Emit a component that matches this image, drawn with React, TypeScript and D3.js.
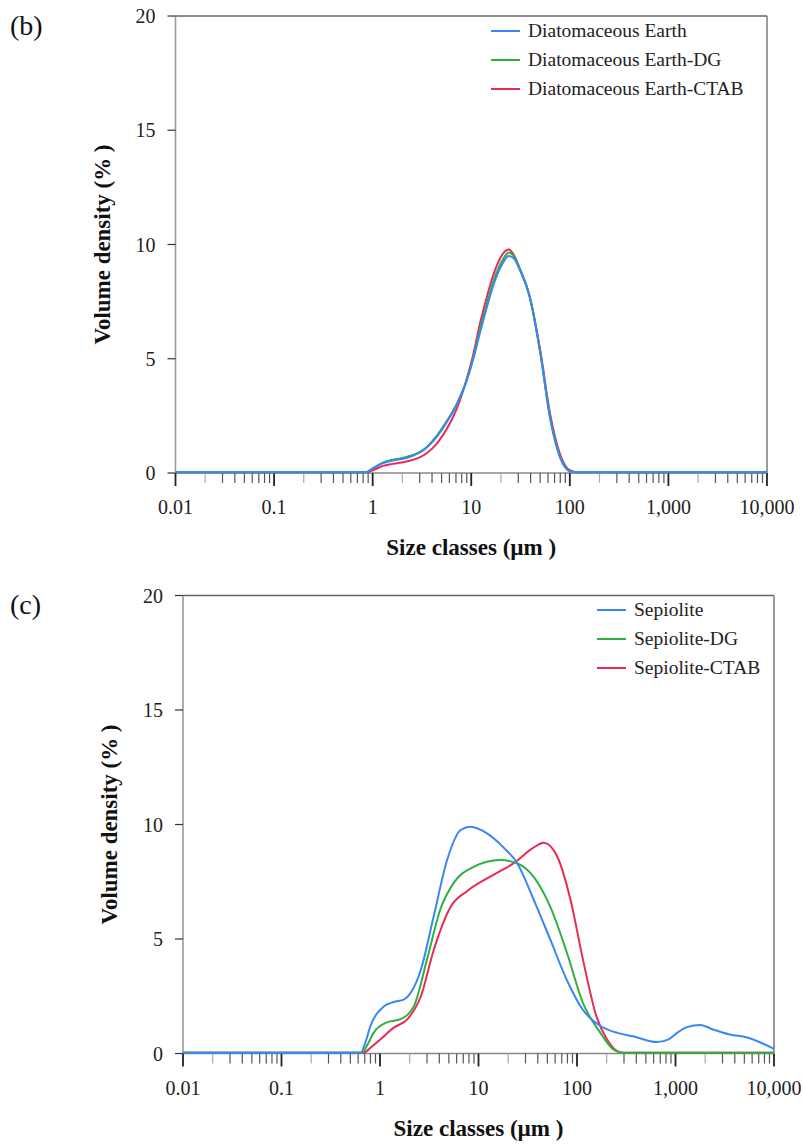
import React from "react";
import * as d3 from "d3";

// ---------- data ----------
const xTickValues = [0.01, 0.1, 1, 10, 100, 1000, 10000];
const xTickLabels = ["0.01", "0.1", "1", "10", "100", "1,000", "10,000"];
const yTickValues = [0, 5, 10, 15, 20];

// Panel (b) – Diatomaceous Earth
const deSizes = [0.01, 0.85, 1.0, 1.26, 1.6, 2.2, 3.5, 4.5, 5.6, 7.1, 8.9, 10.5, 12.2, 14.5, 16.7, 21, 24, 27, 31, 39, 50, 63, 80, 100, 120, 10000];
const deBlue = [0.03, 0.03, 0.2, 0.42, 0.55, 0.65, 1.09, 1.6, 2.2, 3.0, 4.0, 5.0, 6.1, 7.3, 8.2, 9.2, 9.5, 9.4, 8.9, 7.75, 5.3, 2.4, 0.65, 0.08, 0.03, 0.03];
const deGreen = [0.03, 0.03, 0.2, 0.45, 0.58, 0.7, 1.12, 1.65, 2.25, 3.0, 4.0, 5.05, 6.25, 7.45, 8.35, 9.35, 9.65, 9.5, 8.95, 7.75, 5.3, 2.45, 0.7, 0.08, 0.03, 0.03];
const deRed = [0.03, 0.03, 0.12, 0.3, 0.4, 0.5, 0.85, 1.3, 1.9, 2.8, 4.05, 5.2, 6.5, 7.75, 8.65, 9.6, 9.78, 9.55, 8.95, 7.75, 5.4, 2.6, 0.8, 0.12, 0.03, 0.03];
const deNames = ["Diatomaceous Earth", "Diatomaceous Earth-DG", "Diatomaceous Earth-CTAB"];

// Panel (c) – Sepiolite
const sepBlueSizes = [0.01, 0.64, 0.7, 0.8, 1.09, 1.38, 1.74, 2.05, 2.6, 3.5, 4.8, 6.6, 8.3, 12.3, 17.9, 24.8, 36.5, 53.6, 79, 115, 173, 257, 372, 645, 850, 1050, 1310, 1790, 2400, 3570, 5330, 10000];
const sepBlue = [0.03, 0.03, 0.4, 1.2, 2.05, 2.25, 2.35, 2.65, 3.66, 5.97, 8.45, 9.76, 9.9, 9.6, 9.0, 8.3, 6.7, 4.97, 3.2, 1.9, 1.2, 0.9, 0.75, 0.5, 0.62, 0.92, 1.15, 1.25, 1.05, 0.83, 0.7, 0.2];
const sepGreenSizes = [0.01, 0.66, 0.75, 0.86, 1.19, 1.62, 2.2, 3.0, 4.1, 5.6, 8.9, 16.6, 24.8, 36.5, 53.6, 79, 115, 173, 235, 295, 10000];
const sepGreen = [0.03, 0.03, 0.4, 0.9, 1.37, 1.5, 2.05, 4.1, 6.3, 7.45, 8.15, 8.45, 8.3, 7.7, 6.4, 4.4, 2.2, 0.9, 0.17, 0.03, 0.03];
const sepRedSizes = [0.01, 0.68, 0.8, 1.0, 1.38, 1.9, 2.6, 3.5, 5.2, 7.7, 14.2, 22.6, 36.5, 46, 63, 86, 115, 158, 203, 257, 300, 10000];
const sepRed = [0.03, 0.03, 0.25, 0.6, 1.13, 1.5, 2.5, 4.5, 6.4, 7.1, 7.8, 8.3, 9.0, 9.2, 8.6, 6.7, 4.1, 1.6, 0.6, 0.1, 0.03, 0.03];
const sepNames = ["Sepiolite", "Sepiolite-DG", "Sepiolite-CTAB"];

const colors = ["#3a86f2", "#2fb040", "#ea2a55"];

const FONT = "'Liberation Serif', 'Times New Roman', serif";

interface Series { sizes: number[]; values: number[]; }

interface PanelProps {
  label: string;
  labelY: number;
  left: number;
  right: number;
  top: number;
  bottom: number;
  series: Series[];
  names: string[];
  legendX: number;
  legendY: number;
}

function Panel(p: PanelProps) {
  const x = d3.scaleLog().domain([0.01, 10000]).range([p.left, p.right]);
  const y = d3.scaleLinear().domain([0, 20]).range([p.bottom, p.top]);
  const minor: number[] = [];
  for (let d = -2; d < 4; d++) for (let k = 2; k <= 9; k++) minor.push(k * Math.pow(10, d));
  const line = (s: Series) =>
    d3
      .line<number>()
      .x((_, i) => x(s.sizes[i]))
      .y((v) => y(v))
      .curve(d3.curveMonotoneX)(s.values) || "";
  const midY = (p.top + p.bottom) / 2;
  const midX = (p.left + p.right) / 2;
  const order = [2, 1, 0];
  return (
    <g>
      <text x={10} y={p.labelY} fontFamily={FONT} fontSize={28} fill="#111">{p.label}</text>
      {/* frame */}
      <line x1={p.left} x2={p.right} y1={p.top} y2={p.top} stroke="#666" strokeWidth={1.3} />
      <line x1={p.right} x2={p.right} y1={p.top} y2={p.bottom} stroke="#666" strokeWidth={1.3} />
      <line x1={p.left} x2={p.left} y1={p.top} y2={p.bottom} stroke="#9a9a9a" strokeWidth={1.6} />
      <line x1={p.left} x2={p.right} y1={p.bottom} y2={p.bottom} stroke="#8a8a8a" strokeWidth={1.6} />
      {/* y ticks */}
      {yTickValues.map((v) => (
        <g key={"y" + v}>
          <line x1={p.left - 8} x2={p.left} y1={y(v)} y2={y(v)} stroke="#333" strokeWidth={1.2} />
          <text x={p.left - 20} y={y(v)} dy="0.35em" textAnchor="end" fontFamily={FONT} fontSize={20} fill="#222">{v}</text>
        </g>
      ))}
      {/* x ticks */}
      {minor.map((v, i) => (
        <line key={"m" + i} x1={x(v)} x2={x(v)} y1={p.bottom} y2={p.bottom + 10} stroke={String(v).replace(/[0.]/g, "")[0] === "2" ? "#aaa" : "#555"} strokeWidth={1.2} />
      ))}
      {xTickValues.map((v, i) => (
        <g key={"x" + i}>
          <line x1={x(v)} x2={x(v)} y1={p.bottom} y2={p.bottom + 13} stroke="#222" strokeWidth={1.8} />
          <text x={x(v)} y={p.bottom + 41} textAnchor="middle" fontFamily={FONT} fontSize={20} fill="#222">{xTickLabels[i]}</text>
        </g>
      ))}
      {/* axis titles */}
      <text x={midX} y={p.bottom + 82} textAnchor="middle" fontFamily={FONT} fontWeight="bold" fontSize={23} textLength={170} lengthAdjust="spacingAndGlyphs" fill="#111">Size classes (µm )</text>
      <text transform={`translate(${p.left - 74},${midY}) rotate(-90)`} textAnchor="middle" dy="0.35em" fontFamily={FONT} fontWeight="bold" fontSize={23} textLength={200} lengthAdjust="spacingAndGlyphs" fill="#111">Volume density (% )</text>
      {/* curves: red, green, then blue on top */}
      {order.map((i) => (
        <path key={"s" + i} d={line(p.series[i])} fill="none" stroke={colors[i]} strokeWidth={2} />
      ))}
      {/* legend */}
      {p.names.map((n, i) => (
        <g key={"l" + i}>
          <line x1={p.legendX} x2={p.legendX + 29} y1={p.legendY + i * 29} y2={p.legendY + i * 29} stroke={colors[i]} strokeWidth={2} />
          <text x={p.legendX + 37} y={p.legendY + i * 29} dy="0.33em" fontFamily={FONT} fontSize={19.5} fill="#222">{n}</text>
        </g>
      ))}
    </g>
  );
}

export default function App() {
  const topSeries: Series[] = [
    { sizes: deSizes, values: deBlue },
    { sizes: deSizes, values: deGreen },
    { sizes: deSizes, values: deRed },
  ];
  const botSeries: Series[] = [
    { sizes: sepBlueSizes, values: sepBlue },
    { sizes: sepGreenSizes, values: sepGreen },
    { sizes: sepRedSizes, values: sepRed },
  ];
  return (
    <svg width={803} height={1145} style={{ position: "absolute", left: 0, top: 0, background: "#fff" }}>
      <rect width={803} height={1145} fill="#fff" />
      <Panel label="(b)" labelY={35} left={175.5} right={767} top={16} bottom={473} series={topSeries} names={deNames} legendX={491} legendY={31} />
      <Panel label="(c)" labelY={614} left={183} right={774} top={595.5} bottom={1053.5} series={botSeries} names={sepNames} legendX={597} legendY={610} />
    </svg>
  );
}
